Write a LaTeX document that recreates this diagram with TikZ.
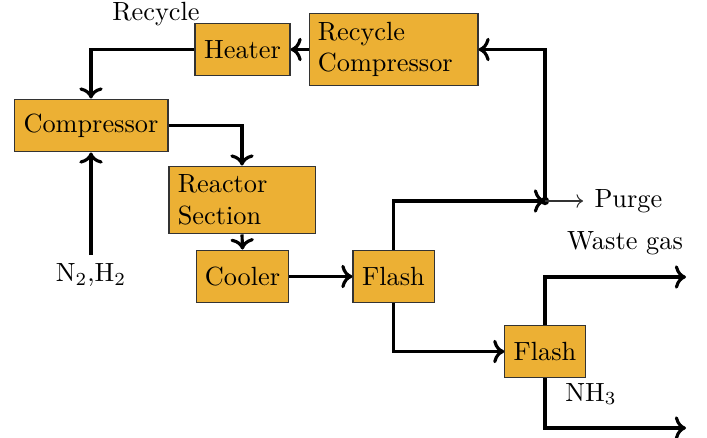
\documentclass[tikz,border=0pt]{standalone}
\usetikzlibrary{arrows.meta,calc}
\definecolor{boxfill}{RGB}{236,176,52}
\begin{document}
\begin{tikzpicture}[x=0.38pt,y=-0.38pt,
  unit/.style={draw=black!80,fill=boxfill,inner sep=3.33pt,minimum height=20.1pt,font=\normalsize},
  flow/.style={very thick,->},
  lbl/.style={inner sep=0pt}]
\useasboundingbox (0,0) rectangle (707,438);
\node[unit,minimum width=36.1pt] (heater) at (242.5,49.5) {Heater};
\node[unit,minimum width=64.2pt,minimum height=27.7pt,text width=57.5pt,align=left] (rc) at (393.5,49.5) {Recycle\\Compressor};
\node[unit,minimum width=58.5pt] (comp) at (91,125.5) {Compressor};
\node[unit,minimum width=55.5pt,minimum height=25.8pt,text width=48.8pt,align=left] (reactor) at (242,200) {Reactor\\Section};
\node[unit,minimum width=35.3pt] (cooler) at (242.5,276.5) {Cooler};
\node[unit,minimum width=30.8pt] (flash1) at (393.5,276.5) {Flash};
\node[unit,minimum width=30.5pt] (flash2) at (545,351.5) {Flash};
\node[lbl] (recyclelbl) at (156,14) {Recycle};
\node[lbl] (feed) at (91,275) {N$_2$,H$_2$};
\node[lbl,anchor=west] (purge) at (594,201) {Purge};
\node[lbl] (waste) at (625,243) {Waste gas};
\node[lbl] (nh3) at (591,394) {NH$_3$};
\coordinate (junc) at (545,201);
\coordinate (purgeend) at (583,201);
\coordinate (feedtop) at (91,255);
\coordinate (wasteend) at (686,277);
\coordinate (nh3end) at (686,428);
\draw[flow] (rc.west) -- (heater.east);
\draw[flow] (heater.west) -| (comp.north);
\draw[flow] (comp.east) -| (reactor.north);
\draw[flow] (reactor.south) -- (cooler.north);
\draw[flow] (feedtop) -- (comp.south);
\draw[flow] (cooler.east) -- (flash1.west);
\draw[flow] (flash1.north) |- (junc);
\draw[flow] (junc) |- (rc.east);
\fill (junc) circle[radius=1.6pt];
\draw[black!80,thin,->] (junc) -- (purgeend);
\draw[flow] (flash1.south) |- (flash2.west);
\draw[flow] (flash2.north) |- (wasteend);
\draw[flow] (flash2.south) |- (nh3end);
\end{tikzpicture}
\end{document}
